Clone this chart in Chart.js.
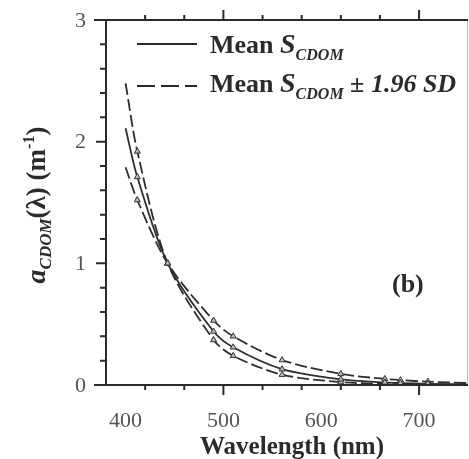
<!DOCTYPE html>
<html lang="en">
<head>
    <meta charset="UTF-8">
    <title>CDOM absorption spectra</title>
    <script src="https://cdn.jsdelivr.net/npm/chart.js"></script>
    <style>
        body {
            margin: 0;
            background-color: #fff;
        }
        #wrap {
            width: 469px;
            height: 459px;
        }
    </style>
</head>
<body>

<div id="wrap">
    <canvas id="grafico" width="469" height="459"></canvas>
</div>

<script>
    // wavelengths (nm) of the plotted points
    const wavelengths = [400, 412, 443, 490, 510, 560, 620, 665, 681, 709, 754];

    // a_CDOM(lambda) normalised at 443 nm
    const meanCurve  = [2.11, 1.71, 1.00, 0.44, 0.31, 0.13, 0.046, 0.021, 0.016, 0.010, 0.005];
    const upperCurve = [2.48, 1.92, 1.00, 0.37, 0.24, 0.085, 0.024, 0.009, 0.007, 0.004, 0.001];
    const lowerCurve = [1.79, 1.52, 1.00, 0.53, 0.40, 0.205, 0.091, 0.050, 0.040, 0.027, 0.015];

    const xTickLabels = [400, 500, 600, 700];
    const yTickLabels = [0, 1, 2, 3];

    const serif = '"Liberation Serif", "DejaVu Serif", serif';
    const ink = '#2b2b2b';

    function pts(ys) {
        return wavelengths.map((x, i) => ({ x: x, y: ys[i] }));
    }

    // draws a run of [text, font, dy] pieces starting at x, returns end x
    function drawPieces(ctx, pieces, x, y) {
        for (let p of pieces) {
            ctx.font = p[1];
            ctx.fillText(p[0], x, y + (p[2] || 0));
            x += ctx.measureText(p[0]).width;
        }
        return x;
    }

    function piecesWidth(ctx, pieces) {
        let w = 0;
        for (let p of pieces) {
            ctx.font = p[1];
            w += ctx.measureText(p[0]).width;
        }
        return w;
    }

    const axesPlugin = {
        id: 'ejes',
        afterDraw(chart) {
            const ctx = chart.ctx;
            const a = chart.chartArea;
            const xs = chart.scales.x;
            const ys = chart.scales.y;

            ctx.save();

            // right frame, thin grey
            ctx.strokeStyle = '#bdbdbd';
            ctx.lineWidth = 1;
            ctx.beginPath();
            ctx.moveTo(a.right - 0.5, a.top);
            ctx.lineTo(a.right - 0.5, a.bottom);
            ctx.stroke();

            // main axes
            ctx.strokeStyle = ink;
            ctx.lineWidth = 2;
            ctx.beginPath();
            ctx.moveTo(a.left, a.top);
            ctx.lineTo(a.left, a.bottom);
            ctx.moveTo(a.left - 12, a.bottom);
            ctx.lineTo(a.right, a.bottom);
            ctx.moveTo(a.left - 12, a.top);
            ctx.lineTo(a.right, a.top);
            ctx.stroke();

            // x ticks, bottom and top, pointing outward
            ctx.beginPath();
            for (let t of xs.ticks) {
                if (t.value % 20 !== 0) continue;
                const px = xs.getPixelForValue(t.value);
                if (px <= a.left + 1 || px > a.right) continue;
                const len = t.value % 100 === 0 ? 10 : 5;
                ctx.moveTo(px, a.bottom);
                ctx.lineTo(px, a.bottom + len);
                ctx.moveTo(px, a.top);
                ctx.lineTo(px, a.top - len);
            }
            // y ticks on the left
            for (let t of ys.ticks) {
                const py = ys.getPixelForValue(t.value);
                const major = Math.abs(t.value - Math.round(t.value)) < 1e-6;
                const len = major ? 10 : 6;
                ctx.moveTo(a.left, py);
                ctx.lineTo(a.left - len, py);
            }
            ctx.stroke();

            // tick labels
            ctx.fillStyle = '#555';
            ctx.font = '22px ' + serif;
            ctx.textAlign = 'center';
            ctx.textBaseline = 'middle';
            for (let v of xTickLabels) {
                ctx.fillText(String(v), xs.getPixelForValue(v), a.bottom + 36);
            }
            ctx.textAlign = 'right';
            for (let v of yTickLabels) {
                ctx.fillText(String(v), a.left - 20, ys.getPixelForValue(v) + 1);
            }

            // x title
            ctx.fillStyle = ink;
            ctx.textAlign = 'center';
            ctx.textBaseline = 'alphabetic';
            ctx.font = 'bold 25px ' + serif;
            ctx.fillText('Wavelength (nm)', 292, 454);

            // y title, rotated
            ctx.textAlign = 'left';
            const yTitle = [
                ['a', 'bold italic 28px ' + serif, 0],
                ['CDOM', 'bold italic 17px ' + serif, 6],
                ['(\u03bb) (m', 'bold 27px ' + serif, 0],
                ['-1', 'bold 16px ' + serif, -11],
                [')', 'bold 27px ' + serif, 0]
            ];
            const tw = piecesWidth(ctx, yTitle);
            ctx.save();
            ctx.translate(45, 205);
            ctx.rotate(-Math.PI / 2);
            drawPieces(ctx, yTitle, -tw / 2, 0);
            ctx.restore();

            // legend
            ctx.strokeStyle = ink;
            ctx.lineWidth = 2;
            ctx.beginPath();
            ctx.moveTo(137, 44);
            ctx.lineTo(197, 44);
            ctx.stroke();
            ctx.setLineDash([18, 6]);
            ctx.beginPath();
            ctx.moveTo(137, 86);
            ctx.lineTo(197, 86);
            ctx.stroke();
            ctx.setLineDash([]);

            const mean = [
                ['Mean ', 'bold 26px ' + serif, 0],
                ['S', 'bold italic 28px ' + serif, 0],
                ['CDOM', 'bold italic 16px ' + serif, 7]
            ];
            drawPieces(ctx, mean, 210, 53);
            drawPieces(ctx, mean.concat([[' \u00b1 1.96 SD', 'bold italic 26px ' + serif, 0]]), 210, 92);

            // panel label
            ctx.font = 'bold 26px ' + serif;
            ctx.fillText('(b)', 392, 292);

            ctx.restore();
        }
    };

    function curve(label, ys, dash) {
        return {
            label: label,
            data: pts(ys),
            borderColor: '#2e2e2e',
            borderWidth: 1.8,
            borderDash: dash,
            pointStyle: 'triangle',
            pointRadius: ctx => (ctx.dataIndex === 0 || ctx.dataIndex === wavelengths.length - 1) ? 0 : 3.5,
            pointBackgroundColor: '#bbb',
            pointBorderColor: '#333',
            pointBorderWidth: 1,
            tension: 0.3,
            fill: false
        };
    }

    new Chart(document.getElementById('grafico').getContext('2d'), {
        type: 'line',
        data: {
            datasets: [
                curve('Mean S_CDOM', meanCurve, []),
                curve('Mean S_CDOM + 1.96 SD', upperCurve, [12, 4]),
                curve('Mean S_CDOM - 1.96 SD', lowerCurve, [12, 4])
            ]
        },
        options: {
            responsive: false,
            animation: false,
            layout: {
                padding: { left: 106, top: 20, right: 1, bottom: 74 }
            },
            scales: {
                x: {
                    type: 'linear',
                    display: false,
                    min: 380,
                    max: 750,
                    ticks: { stepSize: 20 }
                },
                y: {
                    display: false,
                    min: 0,
                    max: 3,
                    ticks: { stepSize: 0.2 }
                }
            },
            plugins: {
                legend: { display: false },
                tooltip: { enabled: false }
            }
        },
        plugins: [axesPlugin]
    });
</script>

</body>
</html>
